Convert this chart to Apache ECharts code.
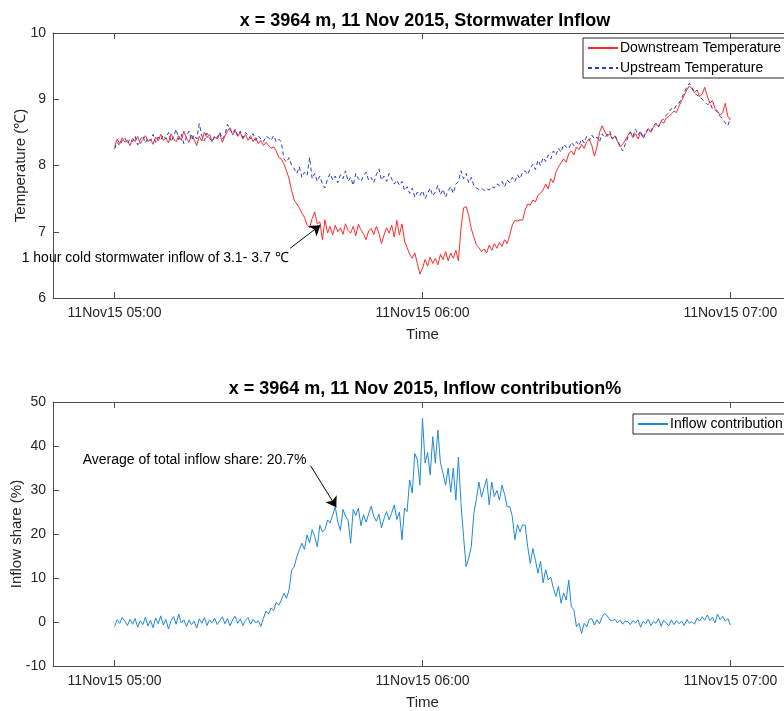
<!DOCTYPE html>
<html>
<head>
<meta charset="utf-8">
<script src="https://cdn.jsdelivr.net/npm/echarts@6/dist/echarts.min.js"></script>
<style>
html,body{margin:0;padding:0;background:#fff;}
#chart{width:784px;height:711px;}
</style>
</head>
<body>
<div id="chart"></div>
<script>
// minutes after 11 Nov 2015 05:00, sampled every 30 s
const startMinute = 0;
const stepMinute = 0.5;
const tickMinutes = [0, 60, 120];
const tickLabels = ["11Nov15 05:00", "11Nov15 06:00", "11Nov15 07:00"];

const downstreamTemp = [
  8.28, 8.40, 8.33, 8.42, 8.35, 8.38, 8.30, 8.41, 8.36, 8.44, 8.33, 8.39, 8.45, 8.36, 8.40, 8.32, 8.43, 8.37, 8.47, 8.38,
  8.42, 8.34, 8.48, 8.40, 8.36, 8.45, 8.38, 8.52, 8.41, 8.35, 8.46, 8.39, 8.30, 8.44, 8.37, 8.50, 8.42, 8.47, 8.36, 8.43,
  8.40, 8.48, 8.35, 8.44, 8.52, 8.57, 8.46, 8.53, 8.44, 8.50, 8.40, 8.47, 8.38, 8.45, 8.36, 8.42, 8.33, 8.38, 8.30, 8.35,
  8.30, 8.26, 8.28, 8.22, 8.12, 8.10, 8.02, 7.92, 7.80, 7.62, 7.48, 7.42, 7.36, 7.28, 7.22, 7.10, 7.06, 7.20, 7.30, 7.12,
  7.15, 6.88, 7.18, 6.98, 7.08, 6.95, 7.10, 7.00, 7.06, 6.96, 7.12, 7.02, 6.98, 7.08, 6.94, 7.11, 7.03, 6.97, 6.88, 7.01,
  7.05, 6.96, 7.08, 6.98, 6.82, 6.95, 7.06, 6.98, 7.10, 6.92, 7.17, 6.95, 7.12, 6.86, 6.76, 6.66, 6.60, 6.68, 6.52, 6.36,
  6.45, 6.58, 6.48, 6.62, 6.52, 6.60, 6.50, 6.66, 6.58, 6.70, 6.56, 6.68, 6.60, 6.72, 6.56, 7.05, 7.36, 7.38, 7.25, 7.05,
  6.92, 6.80, 6.76, 6.70, 6.74, 6.68, 6.80, 6.72, 6.82, 6.75, 6.84, 6.78, 6.88, 6.82, 6.95, 7.10, 7.17, 7.16, 7.18, 7.17,
  7.33, 7.42, 7.40, 7.48, 7.45, 7.55, 7.58, 7.63, 7.72, 7.65, 7.80, 7.74, 7.90, 7.98, 8.04, 8.10, 8.05, 8.18, 8.22, 8.16,
  8.28, 8.24, 8.32, 8.26, 8.36, 8.40, 8.30, 8.14, 8.28, 8.50, 8.60, 8.52, 8.44, 8.48, 8.40, 8.44, 8.36, 8.28, 8.32, 8.38,
  8.45, 8.51, 8.42, 8.48, 8.40, 8.50, 8.44, 8.48, 8.55, 8.50, 8.58, 8.62, 8.60, 8.66, 8.64, 8.72, 8.74, 8.78, 8.82, 8.80,
  8.90, 8.98, 9.06, 9.14, 9.20, 9.16, 9.10, 9.14, 9.04, 9.08, 9.18, 9.05, 8.94, 8.98, 8.86, 8.82, 8.76, 8.80, 8.94, 8.74,
  8.69
];

const upstreamTemp = [
  8.25, 8.35, 8.30, 8.38, 8.42, 8.33, 8.40, 8.36, 8.44, 8.31, 8.39, 8.45, 8.34, 8.41, 8.37, 8.47, 8.35, 8.43, 8.38, 8.46,
  8.40, 8.50, 8.36, 8.44, 8.55, 8.39, 8.47, 8.33, 8.43, 8.52, 8.38, 8.46, 8.40, 8.63, 8.44, 8.37, 8.49, 8.41, 8.36, 8.45,
  8.42, 8.50, 8.40, 8.46, 8.62, 8.54, 8.48, 8.55, 8.45, 8.52, 8.42, 8.50, 8.46, 8.40, 8.48, 8.38, 8.45, 8.40, 8.36, 8.44,
  8.42, 8.38, 8.45, 8.36, 8.40, 8.35, 8.10, 8.05, 8.12, 8.00, 7.95, 7.88, 7.98, 7.82, 7.90, 7.85, 8.12, 7.80, 7.88, 7.76,
  7.84, 7.72, 7.66, 7.80, 7.88, 7.78, 7.84, 7.74, 7.86, 7.80, 7.92, 7.76, 7.82, 7.70, 7.88, 7.80, 7.76, 7.84, 7.90, 7.78,
  7.82, 7.74, 7.86, 7.95, 7.78, 7.84, 7.76, 7.88, 7.80, 7.72, 7.78, 7.70, 7.76, 7.62, 7.68, 7.58, 7.66, 7.52, 7.60, 7.55,
  7.62, 7.50, 7.58, 7.66, 7.54, 7.60, 7.70, 7.56, 7.64, 7.52, 7.62, 7.68, 7.58, 7.72, 7.76, 7.92, 7.80, 7.88, 7.74, 7.82,
  7.70, 7.66, 7.64, 7.66, 7.62, 7.65, 7.63, 7.68, 7.66, 7.72, 7.70, 7.76, 7.68, 7.78, 7.74, 7.82, 7.76, 7.86, 7.80, 7.90,
  7.92, 7.86, 7.96, 8.02, 7.94, 8.08, 8.00, 8.12, 8.06, 8.16, 8.10, 8.22, 8.16, 8.26, 8.20, 8.32, 8.28, 8.25, 8.35, 8.30,
  8.36, 8.30, 8.40, 8.34, 8.44, 8.38, 8.46, 8.40, 8.43, 8.36, 8.48, 8.42, 8.46, 8.52, 8.40, 8.46, 8.38, 8.30, 8.22, 8.32,
  8.42, 8.50, 8.44, 8.55, 8.46, 8.52, 8.40, 8.50, 8.56, 8.52, 8.60, 8.64, 8.58, 8.68, 8.70, 8.76, 8.80, 8.86, 8.84, 8.92,
  8.94, 9.02, 9.10, 9.18, 9.24, 9.18, 9.10, 9.06, 9.04, 9.00, 8.96, 8.92, 8.94, 8.86, 8.84, 8.80, 8.74, 8.70, 8.64, 8.60,
  8.72
];

const inflowShare = [
  -1.0, 0.5, -0.3, 1.0, 0.2, -0.8, 0.6, -0.5, 0.8, -1.2, 0.3, -0.6, 1.1, -0.9, 0.4, -1.3, 0.9, -0.4, 1.4, -0.7,
  0.6, -1.6, 0.3, 1.2, -0.5, 1.8, -0.2, 0.5, -1.0, 0.4, -0.6, 0.2, -1.4, 0.7, -0.3, 1.0, -0.8, 0.5, -0.2, 0.9,
  -0.6, 0.3, 1.2, -0.4, 0.8, -0.9, 0.5, 1.3, -0.3, 0.7, -0.8, 0.4, 1.0, -0.5, 0.6, -0.2, 0.3, -1.0, 0.8, 2.5,
  1.8, 3.2, 2.6, 4.5, 3.8, 5.0, 6.5, 5.4, 7.3, 11.8, 12.5, 14.8, 16.4, 17.9, 16.5, 19.8, 18.0, 21.0, 19.4, 17.1,
  22.0, 20.5, 21.0, 23.2, 22.5, 24.3, 26.2, 22.7, 20.8, 25.6, 24.0, 23.2, 17.9, 25.6, 24.2, 25.9, 21.9, 24.4, 22.7, 24.5,
  26.3, 24.0, 22.9, 24.5, 21.4, 23.5, 25.1, 23.2, 24.8, 26.6, 23.3, 25.0, 18.7, 25.9, 25.1, 32.3, 29.3, 38.3, 36.8, 31.1,
  46.3, 36.1, 38.5, 33.4, 42.1, 36.1, 43.6, 36.1, 33.8, 31.1, 35.0, 29.5, 35.0, 27.7, 37.5, 26.9, 19.4, 12.6, 14.5, 17.1,
  24.6, 28.0, 31.8, 28.4, 30.5, 32.6, 26.6, 31.8, 28.5, 29.9, 27.7, 31.1, 29.0, 26.2, 26.2, 24.0, 18.7, 22.1, 20.5, 22.1,
  22.0, 17.1, 13.3, 16.7, 14.0, 11.1, 13.8, 8.9, 11.9, 9.6, 10.2, 7.7, 5.8, 8.1, 4.3, 6.6, 5.0, 9.5, 3.5, 2.8,
  -1.1, -0.3, -2.6, -0.3, -1.1, 0.6, 0.8, -0.7, 0.5, -0.4, 1.2, 2.0, 1.4, 0.5, 0.3, 0.6, -0.2, 0.4, -0.5, 0.2,
  0.1, -0.6, 0.3, -0.2, 0.5, -1.2, 0.2, -0.4, 0.6, -0.8, 0.1, -0.3, 0.8, -1.0, 0.4, -0.2, -0.9, 0.5, -0.6, 0.3,
  -0.4, 0.2, -0.8, 0.6, -0.3, 0.1, -0.5, 0.9, 0.2, 1.2, 0.4, 1.6, 0.3, 1.1, -0.2, 1.8, 0.5, 1.3, 0.2, 0.8,
  -0.7
];

// annotations: [minute, value]
const tempNoteText = "1 hour cold stormwater inflow of 3.1- 3.7 \u2103";
const tempNoteAnchor = [33.9, 6.6];
const tempArrow = [[34.2, 6.75], [40.1, 7.10]];
const shareNoteText = "Average of total inflow share: 20.7%";
const shareNoteAnchor = [37.4, 36.8];
const shareArrow = [[38.2, 35.5], [43.2, 26.1]];

const pairs = arr => arr.map((v, i) => [startMinute + i * stepMinute, v]);

const FONT = '"Liberation Sans", Arial, sans-serif';
const AX = '#262626';
const AXLINE = '#4d4d4d';

function xAxes(gridIndex) {
  const base = {
    type: 'value', gridIndex: gridIndex, min: -12, max: 132,
    splitLine: { show: false },
    axisLine: { show: true, onZero: false, lineStyle: { color: AXLINE, width: 1 } },
    axisTick: { show: true, inside: true, length: 6, customValues: tickMinutes, lineStyle: { color: AXLINE } },
  };
  return [
    Object.assign({}, base, {
      position: 'bottom',
      name: 'Time', nameLocation: 'middle', nameGap: 29, nameMoveOverlap: false,
      nameTextStyle: { color: AX, fontSize: 15, fontFamily: FONT },
      axisLabel: {
        show: true, customValues: tickMinutes, margin: 8,
        color: AX, fontSize: 14, fontFamily: FONT,
        formatter: v => tickLabels[tickMinutes.indexOf(v)] || ''
      }
    }),
    Object.assign({}, base, { position: 'top', axisLabel: { show: false } })
  ];
}

function yAxis(gridIndex, min, max, interval, name, nameGap) {
  return {
    type: 'value', gridIndex: gridIndex, min: min, max: max, interval: interval,
    position: 'left',
    splitLine: { show: false },
    axisLine: { show: true, onZero: false, lineStyle: { color: AXLINE, width: 1 } },
    axisTick: { show: true, inside: true, length: 6, lineStyle: { color: AXLINE } },
    axisLabel: { color: AX, fontSize: 14, fontFamily: FONT, margin: 7 },
    name: name, nameLocation: 'middle', nameGap: nameGap, nameRotate: 90, nameMoveOverlap: false,
    nameTextStyle: { color: AX, fontSize: 15, fontFamily: FONT }
  };
}

const arrowLine = (coords) => ({
  silent: true, symbol: ['none', 'arrow'], symbolSize: 10,
  lineStyle: { color: '#000', width: 1, type: 'solid' },
  itemStyle: { color: '#000' },
  label: { show: false },
  emphasis: { disabled: true },
  data: [[{ coord: coords[0] }, { coord: coords[1] }]],
  animation: false
});
const notePoint = (anchor, text) => ({
  silent: true, symbol: 'circle', symbolSize: 0,
  label: { show: true, position: 'left', distance: 0, formatter: text, color: '#000', fontSize: 14, fontFamily: FONT },
  data: [{ coord: anchor }],
  animation: false
});

const legendCommon = {
  orient: 'vertical', padding: [3, 10, 3, 4], itemGap: 6, itemWidth: 30, itemHeight: 14,
  borderColor: AX, borderWidth: 1, backgroundColor: '#fff',
  itemStyle: { color: 'rgba(0,0,0,0)', borderColor: 'rgba(0,0,0,0)', borderWidth: 0 },
  textStyle: { color: '#000', fontSize: 14, fontFamily: FONT, padding: [0, 0, 0, -3] }
};

const chart = echarts.init(document.getElementById('chart'), null, { renderer: 'canvas' });
const xa0 = xAxes(0), xa1 = xAxes(1);
chart.setOption({
  backgroundColor: '#ffffff',
  animation: false,
  title: [
    { text: 'x = 3964 m, 11 Nov 2015, Stormwater Inflow', left: 420, top: 7, textAlign: 'center',
      textStyle: { fontSize: 18, fontWeight: 'bold', color: '#000', fontFamily: FONT } },
    { text: 'x = 3964 m, 11 Nov 2015, Inflow contribution%', left: 420, top: 375, textAlign: 'center',
      textStyle: { fontSize: 18, fontWeight: 'bold', color: '#000', fontFamily: FONT } }
  ],
  grid: [
    { left: 53, top: 33, right: -8, height: 265, containLabel: false, outerBoundsMode: 'none' },
    { left: 53, top: 402, right: -8, height: 264, containLabel: false, outerBoundsMode: 'none' }
  ],
  xAxis: [xa0[0], xa0[1], xa1[0], xa1[1]],
  yAxis: [
    yAxis(0, 6, 10, 1, 'Temperature (\u2103)', 25),
    yAxis(1, -10, 50, 10, 'Inflow share (%)', 29)
  ],
  legend: [
    Object.assign({}, legendCommon, { data: ['Downstream Temperature', 'Upstream Temperature'], left: 583, top: 38 }),
    Object.assign({}, legendCommon, { data: ['Inflow contribution'], left: 633, top: 414 })
  ],
  series: [
    { name: 'Downstream Temperature', type: 'line', xAxisIndex: 0, yAxisIndex: 0,
      data: pairs(downstreamTemp), showSymbol: false, symbol: 'none',
      lineStyle: { color: '#ff2a2a', width: 1 }, itemStyle: { color: '#ff2a2a' },
      markLine: arrowLine(tempArrow), markPoint: notePoint(tempNoteAnchor, tempNoteText) },
    { name: 'Upstream Temperature', type: 'line', xAxisIndex: 0, yAxisIndex: 0,
      data: pairs(upstreamTemp), showSymbol: false, symbol: 'none',
      lineStyle: { color: '#2a3cc0', width: 1, type: [4, 3] }, itemStyle: { color: '#2a3cc0' } },
    { name: 'Inflow contribution', type: 'line', xAxisIndex: 2, yAxisIndex: 1,
      data: pairs(inflowShare), showSymbol: false, symbol: 'none',
      lineStyle: { color: '#2188d4', width: 1 }, itemStyle: { color: '#2188d4' },
      markLine: arrowLine(shareArrow), markPoint: notePoint(shareNoteAnchor, shareNoteText) }
  ]
});
</script>
</body>
</html>
